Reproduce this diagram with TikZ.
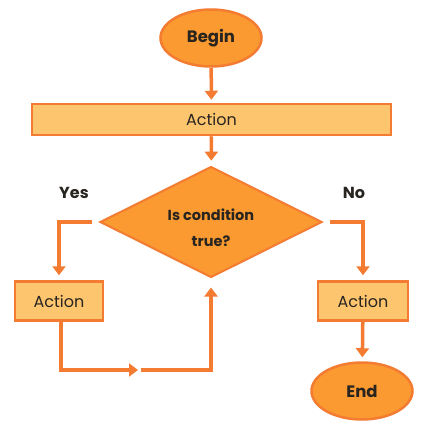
\documentclass[tikz,border=0pt]{standalone}
\usepackage{fontspec}
\setmainfont{Poppins}
\usetikzlibrary{shapes,arrows.meta}

\definecolor{lineorange}{RGB}{244,123,50}
\definecolor{darkfill}{RGB}{250,154,48}
\definecolor{lightfill}{RGB}{253,197,110}
\definecolor{textdark}{RGB}{40,36,32}

\begin{document}
\begin{tikzpicture}[x=1pt,y=-1pt,
  term/.style={ellipse,draw=lineorange,line width=2.5pt,fill=darkfill,
    minimum width=101pt,minimum height=57pt,font=\fontsize{16.5}{18}\selectfont\bfseries,text=textdark},
  actbox/.style={rectangle,draw=lineorange,line width=2.5pt,fill=lightfill,
    minimum height=39pt,font=\fontsize{16}{18}\selectfont,text=textdark},
  decide/.style={diamond,aspect=2,draw=lineorange,line width=2pt,fill=darkfill,inner sep=0pt,
    minimum width=222pt,minimum height=111pt,text=textdark},
  arr/.style={draw=lineorange,line width=3.5pt,-{Triangle[width=13pt,length=9pt]}},
  answer/.style={font=\fontsize{16}{18}\selectfont\bfseries,text=textdark}]
\useasboundingbox (0,0) rectangle (426,433);

\node[term] (begin) at (211,38) {Begin};
\node[actbox,minimum width=359pt,minimum height=31pt] (action) at (211.5,119.5) {Action};
\node[decide] (cond) at (211,222)
  {\raisebox{0pt}[\dimexpr\height+12pt\relax]{\parbox{120pt}{\centering\fontsize{14.5}{26}\selectfont\bfseries Is condition\\true?}}};
\node[actbox,minimum width=88pt] (left) at (59,301) {Action};
\node[actbox,minimum width=90pt] (right) at (363,301) {Action};
\node[term] (end) at (362,391) {End};
\node[answer] (yes) at (74,193) {Yes};
\node[answer] (no) at (354,193) {No};
\coordinate (loopin) at (138,370);
\coordinate (loopout) at (141,370);

\draw[arr,shorten >=3pt] (begin) -- (action);
\draw[arr,shorten >=5pt] (action) -- (cond);
\draw[arr,shorten <=7pt,shorten >=5pt] (cond.west) -| (left.north);
\draw[arr,shorten <=7pt,shorten >=5pt] (cond.east) -| (right.north);
\draw[arr,shorten >=4pt] (right) -- (end);
\draw[arr] ([xshift=2pt]left.south) |- (loopin);
\draw[arr,shorten >=9pt] (loopout) -| (cond.south);
\end{tikzpicture}
\end{document}
